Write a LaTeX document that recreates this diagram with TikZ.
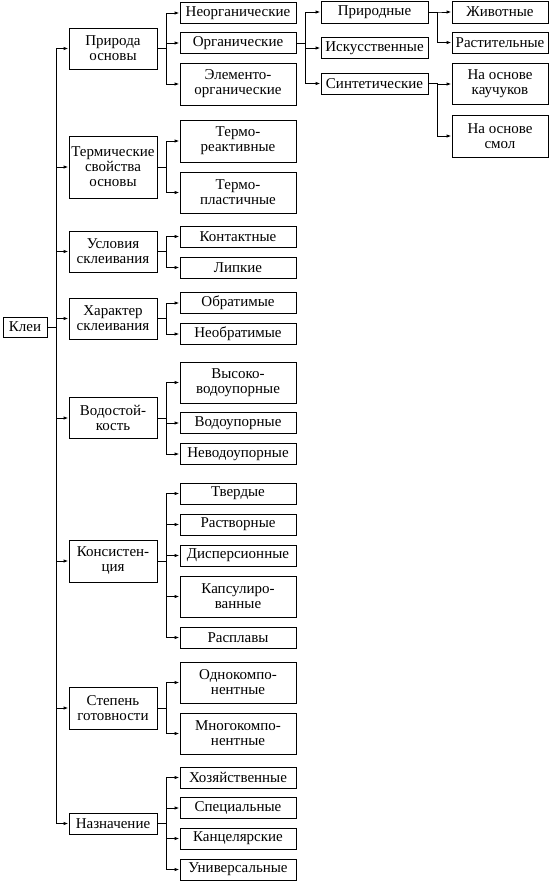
\documentclass[tikz,border=0pt]{standalone}
\usepackage{fontspec}
\setmainfont{Liberation Serif}
\usetikzlibrary{arrows.meta}

\tikzset{
  box/.style={draw, line width=1pt, align=center, inner sep=1pt,
    font=\fontsize{15}{15}\selectfont},
  lvlA/.style={box, minimum width=88pt},
  lvlB/.style={box, minimum width=116pt},
  lvlC/.style={box, minimum width=107pt},
  lvlD/.style={box, minimum width=96pt},
  arr/.style={line width=1pt, -{Latex[length=5pt,width=3.5pt]}}
}

\begin{document}
\begin{tikzpicture}[x=1pt, y=-1pt]

  % ── корень ──
  \node[box, minimum width=44pt, minimum height=20pt] (klei) at (25,327) {Клеи};

  % ── 1-й уровень: x=113 ──
  \foreach \n/\y/\h/\t in {%
      priroda/48.5/41/{Природа\\основы},
      termo/167/62/{Термические\\свойства\\основы},
      usl/251.5/41/{Условия\\склеивания},
      harakter/318.5/41/{Характер\\склеивания},
      vodo/418/41/{Водостой-\\кость},
      kons/561/42/{Консистен-\\ция},
      stepen/708/42/{Степень\\готовности},
      nazn/823.5/21/{Назначение}}
    \node[lvlA, minimum height=\h] (\n) at (113,\y) {\t};

  % ── 2-й уровень: x=238 ──
  \foreach \n/\y/\h/\t in {%
      neorg/13/21/{Неорганические},
      org/43/21/{Органические},
      elem/84/42/{Элементо-\\органические},
      treakt/141/42/{Термо-\\реактивные},
      tplast/192.5/41/{Термо-\\пластичные},
      kont/236.5/21/{Контактные},
      lipk/267.5/21/{Липкие},
      obr/303/21/{Обратимые},
      neobr/334/21/{Необратимые},
      vysoko/382.5/41/{Высоко-\\водоупорные},
      vodoup/423/21/{Водоупорные},
      nevodo/454/21/{Неводоупорные},
      tverd/493.5/21/{Твердые},
      rastv/524.5/21/{Растворные},
      disp/555.5/21/{Дисперсионные},
      kaps/596.5/41/{Капсулиро-\\ванные},
      raspl/637.5/21/{Расплавы},
      odno/682.5/41/{Однокомпо-\\нентные},
      mnogo/733.5/41/{Многокомпо-\\нентные},
      hoz/777.5/21/{Хозяйственные},
      spec/808/21/{Специальные},
      kanc/838.5/21/{Канцелярские},
      univ/869.5/21/{Универсальные}}
    \node[lvlB, minimum height=\h] (\n) at (238,\y) {\t};

  % ── 3-й уровень: x=374.5 ──
  \foreach \n/\y/\h/\t in {%
      prir/12/22/{Природные},
      isk/48/21/{Искусственные},
      sint/83.5/21/{Синтетические}}
    \node[lvlC, minimum height=\h] (\n) at (374.5,\y) {\t};

  % ── 4-й уровень: x=500 ──
  \foreach \n/\y/\h/\t in {%
      zhiv/12/22/{Животные},
      rast/42.5/21/{Растительные},
      kauch/84/41/{На основе\\каучуков},
      smol/136/42/{На основе\\смол}}
    \node[lvlD, minimum height=\h] (\n) at (500,\y) {\t};

  % ── связи: родитель → шина (9pt) → потомок ──
  \foreach \p/\c in {%
      klei/priroda, klei/termo, klei/usl, klei/harakter,
      klei/vodo, klei/kons, klei/stepen, klei/nazn,
      priroda/neorg, priroda/org, priroda/elem,
      termo/treakt, termo/tplast,
      usl/kont, usl/lipk,
      harakter/obr, harakter/neobr,
      vodo/vysoko, vodo/vodoup, vodo/nevodo,
      kons/tverd, kons/rastv, kons/disp, kons/kaps, kons/raspl,
      stepen/odno, stepen/mnogo,
      nazn/hoz, nazn/spec, nazn/kanc, nazn/univ,
      org/prir, org/isk, org/sint,
      prir/zhiv, prir/rast,
      sint/kauch, sint/smol}
    \draw[arr] (\p.east) -- ++(8.5,0) |- (\c.west);

  \path[use as bounding box] (0,0) rectangle (549,881);
\end{tikzpicture}
\end{document}
